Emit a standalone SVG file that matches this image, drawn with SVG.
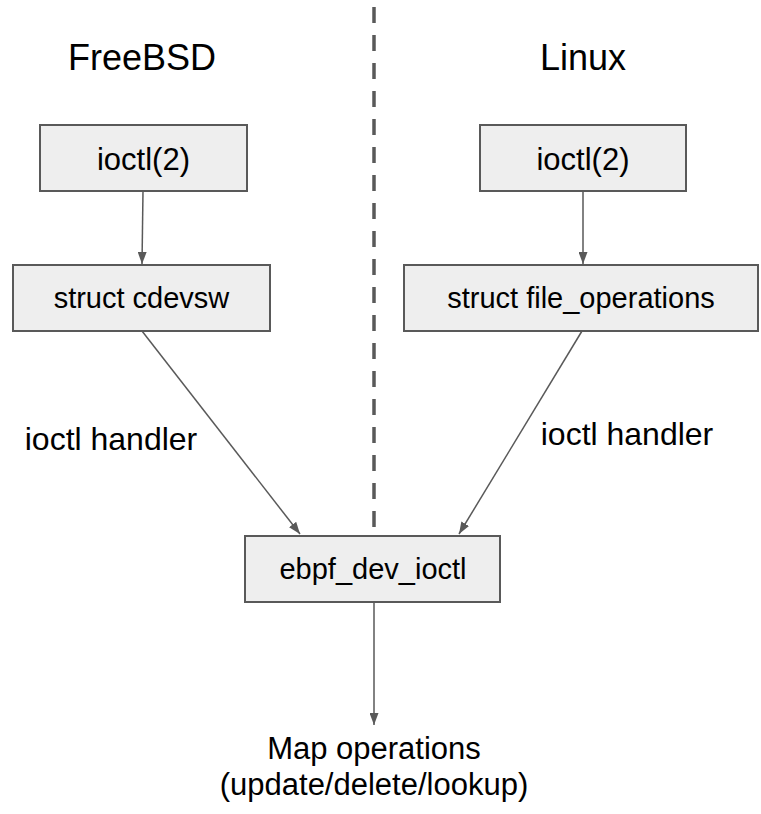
<svg xmlns="http://www.w3.org/2000/svg" width="761" height="814" viewBox="0 0 761 814">
<style>
.box{fill:#eeeeee;stroke:#595959;stroke-width:2}
.t{font-family:"Liberation Sans",Arial,sans-serif;fill:#000;text-anchor:middle}
.c{stroke:#595959;stroke-width:1.5;fill:none}
</style>
<defs>
<marker id="ah" markerUnits="userSpaceOnUse" markerWidth="12" markerHeight="9" refX="12" refY="4.5" orient="auto">
<path d="M0,0 L12,4.5 L0,9 z" fill="#595959"/>
</marker>
</defs>
<rect width="761" height="814" fill="#fff"/>
<line x1="374" y1="7" x2="374" y2="535" stroke="#595959" stroke-width="3.5" stroke-dasharray="16 12"/>
<text class="t" x="142" y="70" font-size="36">FreeBSD</text>
<text class="t" x="583" y="70" font-size="36">Linux</text>
<g id="connectors">
<line class="c" x1="143" y1="191" x2="142" y2="264" marker-end="url(#ah)"/>
<line class="c" x1="583" y1="191" x2="583" y2="264" marker-end="url(#ah)"/>
<line class="c" x1="142" y1="331" x2="300" y2="534" marker-end="url(#ah)"/>
<line class="c" x1="582" y1="331" x2="459" y2="534" marker-end="url(#ah)"/>
<line class="c" x1="374" y1="602" x2="374" y2="725" marker-end="url(#ah)"/>
<text class="t" x="111" y="450" font-size="32">ioctl handler</text>
<text class="t" x="627" y="445" font-size="32">ioctl handler</text>
</g>
<g id="freebsd-ioctl"><rect class="box" x="40" y="125" width="207" height="66"/><text class="t" x="143.5" y="170" font-size="31">ioctl(2)</text></g>
<g id="linux-ioctl"><rect class="box" x="480" y="125" width="206" height="66"/><text class="t" x="583" y="170" font-size="31">ioctl(2)</text></g>
<g id="cdevsw"><rect class="box" x="13" y="265" width="257" height="66"/><text class="t" x="141.5" y="308" font-size="29">struct cdevsw</text></g>
<g id="file-operations"><rect class="box" x="404" y="265" width="354" height="66"/><text class="t" x="581" y="308" font-size="29">struct file_operations</text></g>
<g id="ebpf-dev-ioctl"><rect class="box" x="245" y="536" width="255" height="66"/><text class="t" x="373" y="579" font-size="29">ebpf_dev_ioctl</text></g>
<g id="map-operations"><text class="t" x="374" y="759" font-size="31">Map operations</text><text class="t" x="374" y="795" font-size="31">(update/delete/lookup)</text></g>
</svg>
